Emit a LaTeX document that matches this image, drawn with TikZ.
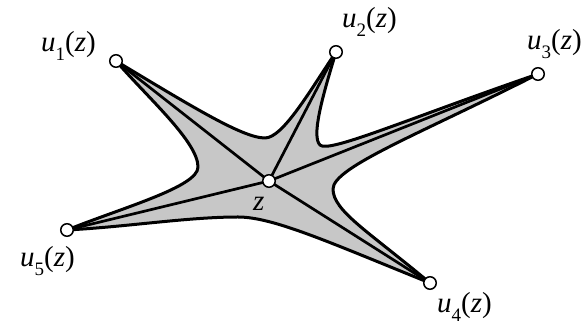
\documentclass[tikz,border=0pt]{standalone}
\usepackage{fontspec}
\setmainfont{Liberation Serif}
\usetikzlibrary{backgrounds}
\newcommand{\ulab}[1]{\textit{u}\raisebox{-0.28em}{\fontsize{19}{20}\selectfont #1}(\textit{z})}
\begin{document}
\begin{tikzpicture}[x=1pt,y=1pt,
  vtx/.style={circle,draw=black,fill=white,line width=1.5pt,minimum size=12.5pt,inner sep=0pt},
  lab/.style={anchor=base west,inner sep=0pt,font=\fontsize{29}{31}\selectfont},
  spoke/.style={line width=2.7pt,line cap=round},
  rim/.style={draw=black,line width=3pt,line join=round,fill=black!22}]
\useasboundingbox (0,0) rectangle (582,326);
\node[vtx] (u1) at (116,265) {};
\node[vtx] (u2) at (336,274) {};
\node[vtx] (u3) at (538,252) {};
\node[vtx] (u4) at (430,43) {};
\node[vtx] (u5) at (67,96) {};
\node[vtx] (z) at (269,145) {};
\coordinate (c12) at (265,188);
\coordinate (c23) at (320,181);
\coordinate (c34) at (333,137);
\coordinate (c45) at (238,109);
\coordinate (c51) at (198,159);
\node[lab] (l1) at (41,274) {\ulab{1}};
\node[lab] (l2) at (342,298) {\ulab{2}};
\node[lab] (l3) at (527,276) {\ulab{3}};
\node[lab] (l4) at (437,13) {\ulab{4}};
\node[lab] (l5) at (20,59) {\ulab{5}};
\node[lab] (lz) at (253,115) {\textit{z}};
\begin{scope}[on background layer]
\path[rim] (u1.center) .. controls +(-31:90) and +(180:22) .. (c12)
  .. controls +(0:18) and +(-124:45) .. (u2.center)
  .. controls +(-107:50) and +(135:12) .. (c23)
  .. controls +(-45:12) and +(-161:140) .. (u3.center)
  .. controls +(-153:130) and +(90:22) .. (c34)
  .. controls +(-90:22) and +(140:80) .. (u4.center)
  .. controls +(158:110) and +(0:35) .. (c45)
  .. controls +(180:50) and +(3:60) .. (u5.center)
  .. controls +(22:60) and +(-90:20) .. (c51)
  .. controls +(90:25) and +(-49:50) .. (u1.center) -- cycle;
\foreach \u in {u1,u2,u3,u4,u5}
  \draw[spoke] (z.center) -- (\u.center);
\end{scope}
\end{tikzpicture}
\end{document}
